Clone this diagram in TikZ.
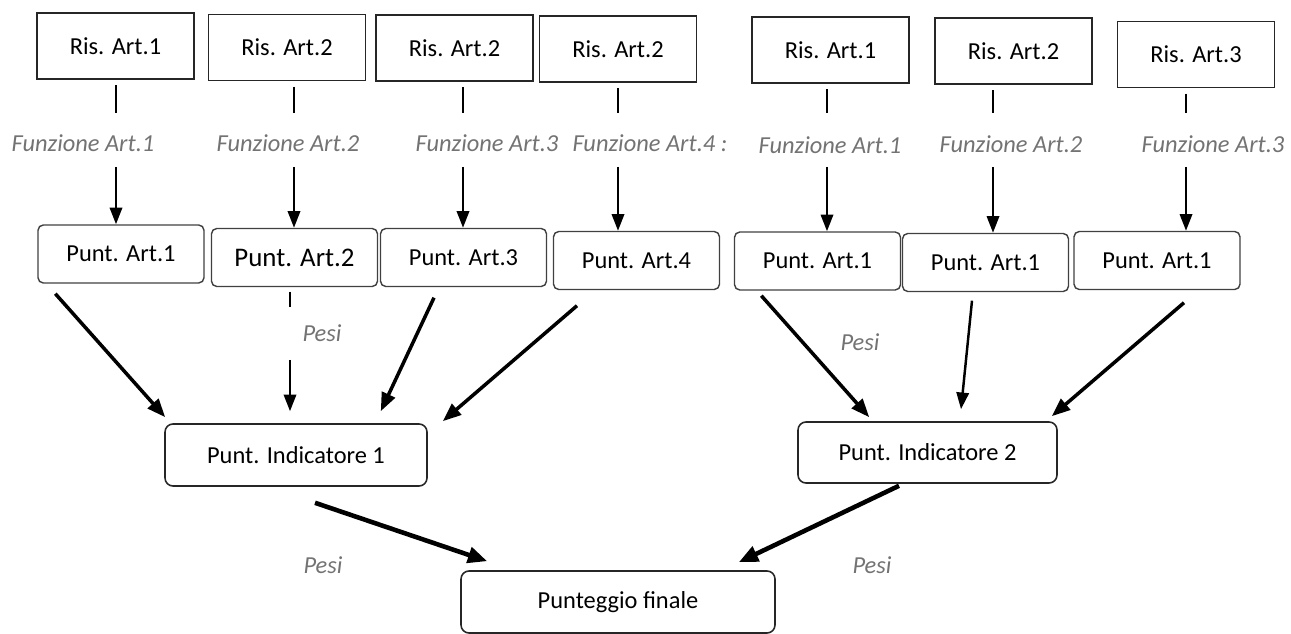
\documentclass[tikz,border=0pt]{standalone}
\usepackage{fontspec}
\setmainfont{Carlito}
\usetikzlibrary{arrows.meta}
\def \linetop {113}
\def \arrowtop {167}
\tikzstyle{ris}=[draw=black!85, line width=0.9pt, minimum width=3.14cm, minimum height=1.32cm, inner sep=0pt]
\tikzstyle{punt}=[draw=black!75, line width=0.8pt, rounded corners=3pt, minimum width=3.32cm, minimum height=1.16cm, inner sep=0pt]
\tikzstyle{indic}=[draw=black!85, line width=0.9pt, rounded corners=4.5pt, inner sep=0pt]
\tikzstyle{annot}=[font=\fontsize{13.9}{16}\selectfont\itshape, text=black!55, inner sep=0pt]
\tikzstyle{stem}=[line width=1.4pt]
\tikzstyle{arr}=[-{Triangle[length=9.5pt, width=7pt]}, line width=1.4pt]
\tikzstyle{thickarr}=[-{Triangle[length=10.5pt, width=8pt]}, line width=2pt]
\tikzstyle{heavyarr}=[-{Triangle[length=11pt, width=9pt]}, line width=2.6pt]

\begin{document}
\begin{tikzpicture}[x=0.02cm, y=-0.02cm, font=\fontsize{13.9}{16}\selectfont]
\useasboundingbox (0,0) rectangle (1291,634);

\foreach \i/\x/\y/\n in {1/115.5/46/1, 2/287/47.5/2, 3/454.5/48/2, 4/618/49/2, 5/830.5/50/1, 6/1013.5/51/2, 7/1196/54.5/3}
    \node[ris] (R\i) at (\x, \y) {Ris. Art.\n};

\foreach \i/\x/\y/\n in {1/83/143/1, 2/288/143/2, 3/487/143/3, 4/650/143/{4 :}, 5/830/145/1, 6/1011/144/2, 7/1213/144/3}
    \node[annot] (F\i) at (\x, \y) {Funzione Art.\n};

\foreach \i/\x/\y/\n in {1/121/254/1, 2/294.5/257.5/2, 3/463.5/257.5/3, 4/636.5/260.5/4, 5/817.5/261/1, 6/985.5/262.5/1, 7/1157/260.5/1}
    \node[punt] (P\i) at (\x, \y) {\ifnum\i=2 \fontsize{15.3}{17}\selectfont\fi Punt. Art.\n};

\foreach \i/\x in {1/116, 2/294, 3/463, 4/618, 5/827, 6/993, 7/1186} {
    \coordinate (a\i) at (\x, \linetop);
    \coordinate (b\i) at (\x, \arrowtop);
    \draw[stem, shorten <=3pt] (R\i.south -| a\i) -- (a\i);
    \draw[arr] (b\i) -- (P\i.north -| b\i);
}

\node[indic, minimum width=5.24cm, minimum height=1.24cm] (I1) at (296, 455) {Punt. Indicatore 1};
\node[indic, minimum width=5.18cm, minimum height=1.22cm] (I2) at (927.5, 452.5) {Punt. Indicatore 2};
\node[indic, minimum width=6.28cm, minimum height=1.24cm] (T) at (618, 602) {Punteggio finale};

\node[annot] (W1) at (322, 333) {Pesi};
\node[annot] (W2) at (860, 342) {Pesi};
\node[annot] (W3) at (323, 565) {Pesi};
\node[annot] (W4) at (872, 565) {Pesi};

\coordinate (c1) at (290, 307);
\coordinate (d1) at (290, 360);
\draw[stem, shorten <=2.5pt] (P2.south -| c1) -- (c1);
\draw[arr, shorten >=6.8pt] (d1) -- (I1.north -| d1);

\draw[thickarr] ([shift={(18,10)}]P1.south west) -- ([shift={(1,-6)}]I1.north west);
\draw[thickarr] ([shift={(-29.5,10.5)}]P3.south) -- ([shift={(-47,-12)}]I1.north east);
\draw[thickarr] ([shift={(-59.5,15.5)}]P4.south) -- ([shift={(15,-2)}]I1.north east);

\draw[thickarr] ([shift={(27.5,5)}]P5.south west) -- ([shift={(72,-4)}]I2.north west);
\draw[arr] ([shift={(-13.5,8.5)}]P6.south) -- ([shift={(33.5,-12)}]I2.north);
\draw[thickarr] ([shift={(27,12.5)}]P7.south) -- ([shift={(-6,-5)}]I2.north east);

\draw[heavyarr] ([shift={(19,16)}]I1.south) -- ([shift={(27,-9)}]T.north west);
\draw[heavyarr] ([shift={(-28.5,2)}]I2.south) -- ([shift={(-37,-8)}]T.north east);

\end{tikzpicture}
\end{document}
